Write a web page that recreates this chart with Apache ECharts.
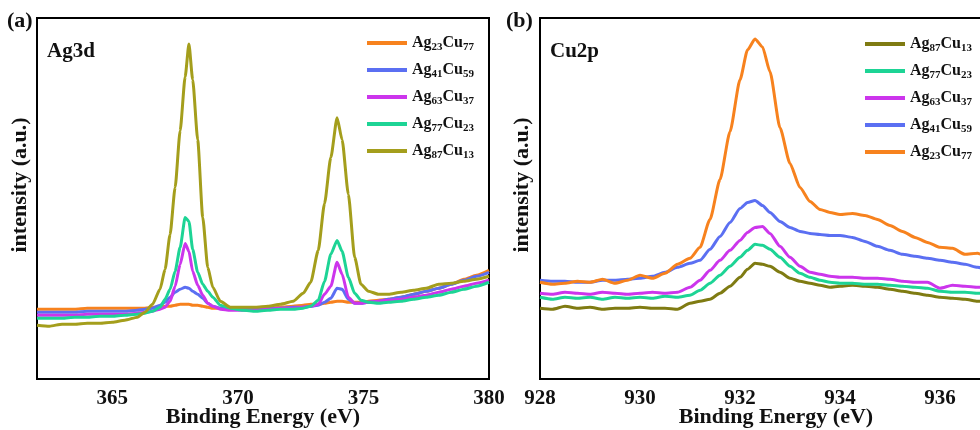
<!DOCTYPE html>
<html>
<head>
<meta charset="utf-8">
<script src="https://cdn.jsdelivr.net/npm/echarts@6/dist/echarts.min.js"></script>
<style>html,body{margin:0;padding:0;background:#fff;overflow:hidden}#c{width:980px;height:430px}</style>
</head>
<body>
<div id="c"></div>
<script>
// ---------- Panel (a): Ag3d ----------
const energyA = [362,362.5,363,363.5,364,364.5,365,365.5,366,366.3,366.6,366.9,367.1,367.3,367.5,367.7,367.9,368.05,368.2,368.4,368.6,368.8,369.0,369.3,369.7,370.2,370.7,371.2,371.7,372.2,372.6,372.9,373.2,373.45,373.7,373.95,374.15,374.4,374.65,374.9,375.2,375.6,376.0,376.5,377.0,377.5,378.0,378.5,379.0,379.5,380];
const a_Ag23Cu77 = [70,70,70,70,71,71,71,71,71,71,72,72,73,73,74,75,75,75,74,74,73,72,71,71,70,70,70,71,72,73,74,75,75,76,77,78,78,77,77,77,78,79,80,82,85,88,91,95,100,104,109];
const a_Ag41Cu59 = [67,67,67,67,68,68,68,68,69,70,71,74,77,82,87,90,92,91,88,85,81,76,73,71,70,70,70,71,71,72,72,73,74,77,81,91,90,80,76,76,77,78,80,82,85,88,91,95,99,103,107];
const a_Ag63Cu37 = [64,64,64,64,65,65,65,65,66,67,68,70,72,78,93,115,136,128,108,94,84,76,73,70,69,69,69,70,71,71,72,73,75,85,93,117,105,82,76,76,77,78,79,80,82,84,87,90,93,96,99];
const a_Ag77Cu23 = [61,61,61,62,62,63,63,64,65,66,68,72,80,90,108,132,162,158,130,107,95,88,82,74,71,69,68,69,70,70,71,73,79,98,125,139,128,102,86,79,77,76,77,78,80,82,84,87,90,93,97];
const a_Ag87Cu13 = [54,53,55,55,56,56,57,59,62,67,75,90,110,145,192,249,303,336,300,240,162,112,92,78,72,72,72,73,75,78,86,97,129,176,222,262,240,185,122,95,88,85,85,87,89,91,95,96,98,100,103];
const ticksA = [365,370,375,380];

// ---------- Panel (b): Cu2p ----------
const energyB = [928,928.25,928.5,928.75,929,929.25,929.5,929.75,930,930.25,930.5,930.75,931,931.2,931.4,931.6,931.8,932.0,932.15,932.3,932.45,932.6,932.8,933.0,933.2,933.4,933.6,933.8,934.0,934.25,934.5,934.75,935.0,935.25,935.5,935.75,936.0,936.25,936.5,936.75,937.0,937.25,937.5];
const b_Ag87Cu13 = [71,70,73,71,72,70,71,71,72,71,71,70,76,78,80,86,93,102,110,116,115,113,107,101,98,96,94,92,93,94,93,92,90,88,86,84,82,81,80,78,78,77,76];
const b_Ag77Cu23 = [82,80,82,81,82,80,82,81,82,81,83,82,84,89,96,104,113,122,129,135,134,130,122,113,106,102,99,97,96,96,95,95,94,93,92,91,88,87,87,86,86,85,85];
const b_Ag63Cu37 = [86,85,87,86,85,87,86,85,86,87,86,87,92,99,109,119,129,139,147,152,153,146,133,122,113,107,105,103,102,102,101,101,100,98,97,97,91,94,93,92,92,91,90];
const b_Ag41Cu59 = [99,98,98,97,97,99,99,100,101,103,107,112,116,119,130,143,157,171,177,179,174,167,158,152,148,146,145,144,144,142,138,133,129,125,123,121,119,117,115,112,110,108,106];
const b_Ag23Cu77 = [97,95,96,98,97,100,96,99,104,101,106,115,121,132,160,200,248,300,330,341,333,308,252,216,192,178,170,167,165,166,164,160,154,148,142,137,132,131,125,126,122,120,118];
const ticksB = [928,930,932,934,936];

const namesA = ['Ag23Cu77','Ag41Cu59','Ag63Cu37','Ag77Cu23','Ag87Cu13'];
const namesB = ['Ag87Cu13','Ag77Cu23','Ag63Cu37','Ag41Cu59','Ag23Cu77'];

const colA = {Ag23Cu77:'#F7821E',Ag41Cu59:'#5B6FF2',Ag63Cu37:'#CC35EC',Ag77Cu23:'#1DD495',Ag87Cu13:'#A49E1C'};
const colB = {Ag23Cu77:'#F7821E',Ag41Cu59:'#5B6FF2',Ag63Cu37:'#CC35EC',Ag77Cu23:'#1DD495',Ag87Cu13:'#7F7B12'};

const valsA = {Ag23Cu77:a_Ag23Cu77,Ag41Cu59:a_Ag41Cu59,Ag63Cu37:a_Ag63Cu37,Ag77Cu23:a_Ag77Cu23,Ag87Cu13:a_Ag87Cu13};
const valsB = {Ag23Cu77:b_Ag23Cu77,Ag41Cu59:b_Ag41Cu59,Ag63Cu37:b_Ag63Cu37,Ag77Cu23:b_Ag77Cu23,Ag87Cu13:b_Ag87Cu13};

const FONT = '"Liberation Serif", "Times New Roman", serif';

function pairs(xs, ys){ return xs.map((x,i)=>[x, ys[i]]); }

function legendFmt(name){
  const n = name.split(':')[1];
  const m = n.match(/^Ag(\d+)Cu(\d+)$/);
  return '{n|Ag}{s|' + m[1] + '}{n|Cu}{s|' + m[2] + '}';
}
const legendRich = {
  n:{fontFamily:FONT,fontWeight:'bold',fontSize:16,color:'#111',lineHeight:20,verticalAlign:'middle'},
  s:{fontFamily:FONT,fontWeight:'bold',fontSize:11,color:'#111',lineHeight:10,verticalAlign:'bottom'}
};

const series = [];
namesA.forEach(n=>series.push({
  name:'a:'+n, type:'line', xAxisIndex:0, yAxisIndex:0, showSymbol:false, symbol:'none',
  smooth:0.2, smoothMonotone:'x', color:colA[n],
  lineStyle:{width:3,color:colA[n]}, data:pairs(energyA, valsA[n])
}));
namesB.forEach(n=>series.push({
  name:'b:'+n, type:'line', xAxisIndex:1, yAxisIndex:1, showSymbol:false, symbol:'none',
  smooth:0.2, smoothMonotone:'x', color:colB[n],
  lineStyle:{width:3,color:colB[n]}, data:pairs(energyB, valsB[n])
}));

function xAx(grid, min, max, ticks){
  return {
    type:'value', gridIndex:grid, min:min, max:max,
    axisLine:{show:true,lineStyle:{color:'#000',width:2}},
    axisTick:{show:false},
    splitLine:{show:false},
    axisLabel:{customValues:ticks, showMaxLabel:true, fontFamily:FONT,fontWeight:'bold',fontSize:21,color:'#111',margin:9},
    axisPointer:{show:false}
  };
}
function yAx(grid){
  return {
    type:'value', gridIndex:grid, min:0, max:362,
    axisLine:{show:true,lineStyle:{color:'#000',width:2}},
    axisTick:{show:false}, axisLabel:{show:false}, splitLine:{show:false}
  };
}

const chart = echarts.init(document.getElementById('c'), null, {renderer:'canvas'});
chart.setOption({
  animation:false,
  backgroundColor:'#fff',
  grid:[
    {left:37, width:452, top:18, bottom:51, show:true, borderColor:'#000', borderWidth:2, backgroundColor:'transparent', containLabel:false, outerBoundsMode:'none'},
    {left:540, width:475, top:18, bottom:51, show:true, borderColor:'#000', borderWidth:2, backgroundColor:'transparent', containLabel:false, outerBoundsMode:'none'}
  ],
  xAxis:[xAx(0,362,380,ticksA), xAx(1,928,937.5,ticksB)],
  yAxis:[yAx(0), yAx(1)],
  legend:[
    {data:namesA.map(n=>'a:'+n), orient:'vertical', left:362, top:30, itemWidth:40, itemHeight:4, itemGap:9, icon:'rect',
     formatter:legendFmt, textStyle:{rich:legendRich}, selectedMode:false},
    {data:namesB.map(n=>'b:'+n), orient:'vertical', left:860, top:31, itemWidth:40, itemHeight:4, itemGap:9, icon:'rect',
     formatter:legendFmt, textStyle:{rich:legendRich}, selectedMode:false}
  ],
  graphic:[
    {type:'text', left:7, top:10, style:{text:'(a)', font:'bold 22px '+FONT, fill:'#111'}},
    {type:'text', left:506, top:10, style:{text:'(b)', font:'bold 22px '+FONT, fill:'#111'}},
    {type:'text', left:47, top:41, style:{text:'Ag3d', font:'bold 21px '+FONT, fill:'#111'}},
    {type:'text', left:550, top:41, style:{text:'Cu2p', font:'bold 21px '+FONT, fill:'#111'}},
    {type:'text', x:20, y:185, rotation:Math.PI/2, style:{text:'intensity (a.u.)', font:'bold 22px '+FONT, fill:'#111', align:'center', verticalAlign:'middle'}},
    {type:'text', x:522, y:185, rotation:Math.PI/2, style:{text:'intensity (a.u.)', font:'bold 22px '+FONT, fill:'#111', align:'center', verticalAlign:'middle'}},
    {type:'text', x:263, y:417, style:{text:'Binding Energy (eV)', font:'bold 22px '+FONT, fill:'#111', align:'center', verticalAlign:'middle'}},
    {type:'text', x:776, y:417, style:{text:'Binding Energy (eV)', font:'bold 22px '+FONT, fill:'#111', align:'center', verticalAlign:'middle'}}
  ],
  series:series
});
</script>
</body>
</html>
